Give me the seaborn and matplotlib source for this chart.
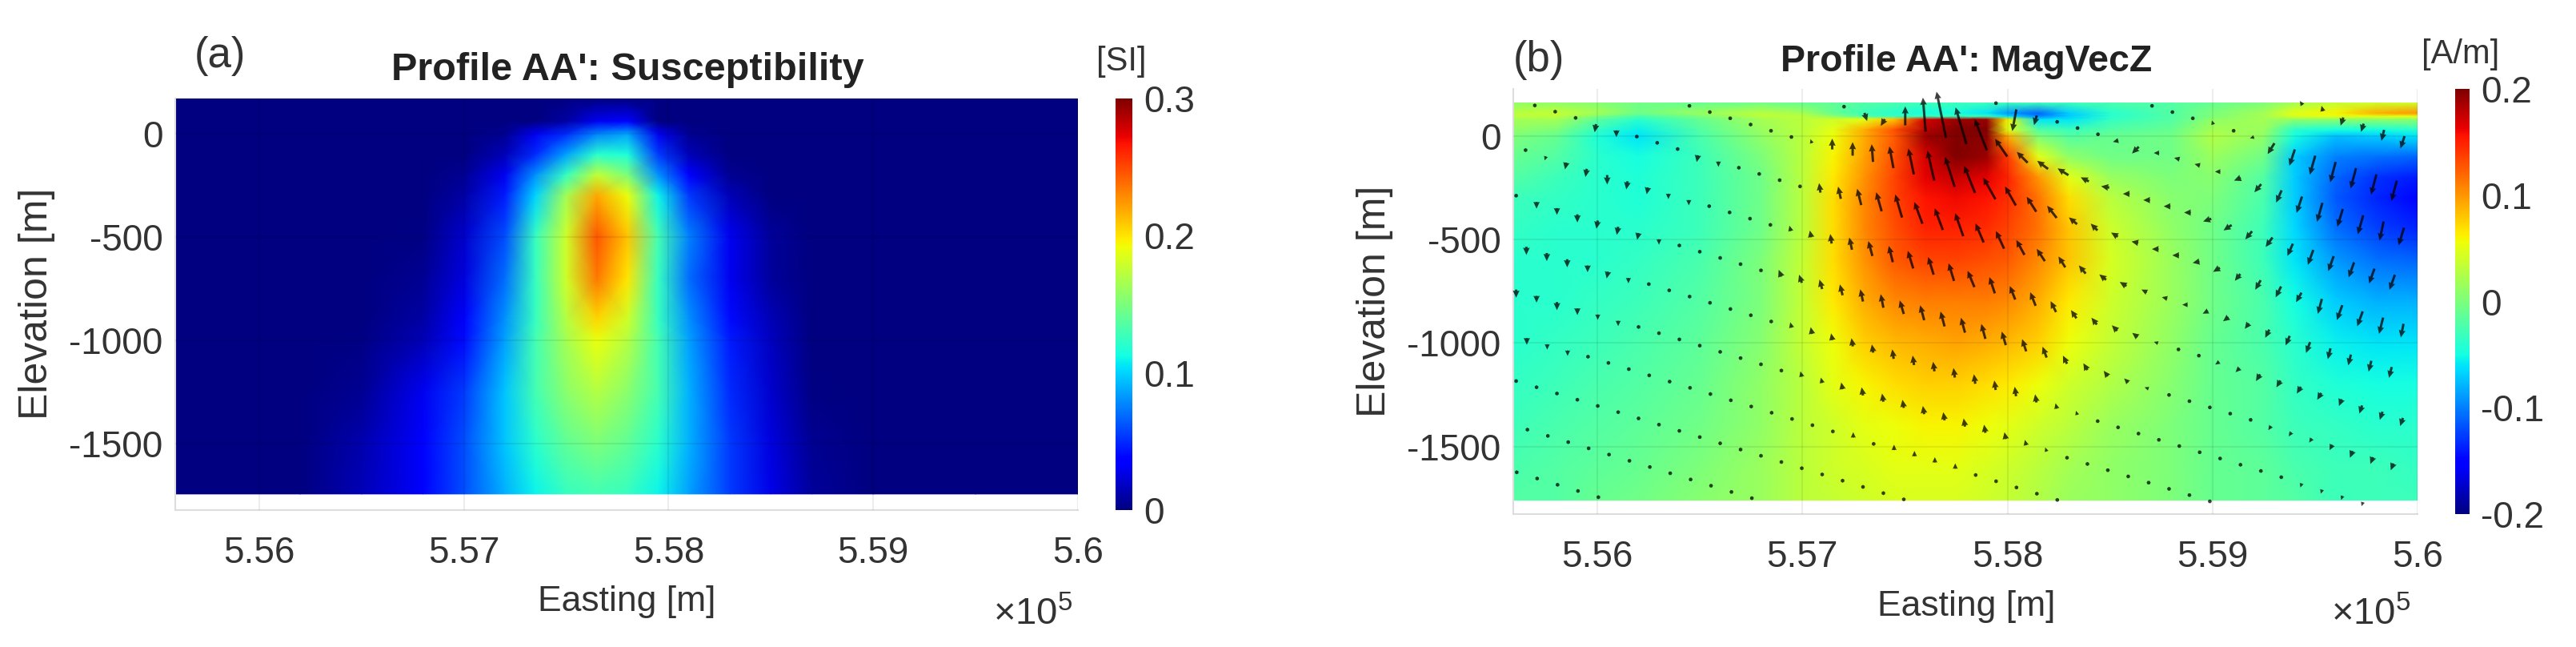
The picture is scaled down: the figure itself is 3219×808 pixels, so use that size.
#%% Loading libraries
import numpy as np
import seaborn as sns
import matplotlib.pyplot as plt

#%% Data
# (a) susceptibility [SI]
east_a = [555590, 556200, 556500, 556800, 557000, 557200, 557350, 557500, 557650,
          557800, 557950, 558100, 558300, 558500, 558700, 559000, 559500, 560000]
elev_a = [170, 60, 0, -100, -200, -300, -500, -700, -900, -1000, -1250, -1500, -1744]
susc = [
    [0, 0, 0, 0, 0, 0, 0, 0, 0, 0, 0, 0, 0, 0, 0, 0, 0, 0],
    [0, 0, 0, 0, 0, 0, 0, .01, .03, .035, 0, 0, 0, 0, 0, 0, 0, 0],
    [0, 0, 0, 0, 0, .005, .03, .05, .075, .085, .03, .005, 0, 0, 0, 0, 0, 0],
    [0, 0, 0, 0, 0, .015, .05, .085, .12, .115, .055, .015, 0, 0, 0, 0, 0, 0],
    [0, 0, 0, 0, .005, .03, .08, .125, .175, .15, .08, .035, .005, 0, 0, 0, 0, 0],
    [0, 0, 0, 0, .01, .045, .10, .165, .22, .19, .11, .055, .015, 0, 0, 0, 0, 0],
    [0, 0, 0, .002, .02, .06, .125, .18, .245, .21, .13, .075, .03, .008, 0, 0, 0, 0],
    [0, 0, 0, .005, .025, .07, .125, .18, .235, .2, .125, .07, .03, .008, 0, 0, 0, 0],
    [0, 0, 0, .01, .035, .08, .125, .17, .205, .18, .125, .08, .04, .015, 0, 0, 0, 0],
    [0, 0, .002, .015, .04, .085, .13, .165, .19, .17, .13, .085, .045, .017, 0, 0, 0, 0],
    [0, 0, .005, .03, .055, .095, .13, .155, .17, .155, .13, .09, .05, .02, .002, 0, 0, 0],
    [0, 0, .012, .035, .06, .095, .12, .14, .15, .14, .12, .09, .055, .025, .005, 0, 0, 0],
    [0, 0, .015, .035, .06, .09, .11, .125, .13, .125, .11, .085, .055, .028, .008, 0, 0, 0],
]

# (b) MagVecZ [A/m]
east_b = [555590, 555800, 556000, 556200, 556500, 556800, 557000, 557150, 557300, 557450, 557600, 557750,
          557900, 558000, 558150, 558300, 558500, 558800, 559000, 559250, 559400, 559600, 559800, 560000]
elev_b = [160, 110, 95, 80, 30, 0, -100, -200, -300, -450, -600, -800, -1000, -1200, -1400, -1600, -1760]
magz = [
    [.01, .01, .005, -.005, -.01, -.005, -.01, -.015, -.02, -.025, -.03, -.03, -.03, -.03, -.03, -.03, -.025, -.02, -.01, .0, .02, .035, .04, .04],
    [.03, .035, .02, -.005, .015, .03, .02, -.01, -.03, -.04, -.05, -.05, -.06, -.09, -.11, -.07, -.04, -.02, .0, .02, .05, .06, .09, .1],
    [.03, .03, .0, -.025, .0, .03, .03, .01, -.02, -.03, -.03, -.03, -.03, -.06, -.1, -.07, -.04, -.02, .0, .02, .045, .05, .05, .05],
    [.02, .02, -.015, -.04, -.01, .02, .03, .04, .05, .08, .17, .19, .19, .06, -.06, -.06, -.035, -.02, .01, .02, .01, .01, .01, .01],
    [.01, .0, -.035, -.055, -.02, .015, .03, .05, .09, .13, .18, .2, .2, .05, -.02, -.03, -.02, -.01, .02, .015, -.04, -.05, -.05, -.04],
    [.0, -.01, -.045, -.06, -.025, .01, .03, .055, .09, .125, .19, .2, .195, .09, .0, -.02, -.01, -.005, .025, .01, -.05, -.075, -.07, -.06],
    [-.01, -.02, -.04, -.05, -.03, .0, .03, .06, .095, .13, .17, .2, .19, .14, .05, .01, -.005, -.005, .015, -.005, -.07, -.1, -.105, -.11],
    [-.02, -.03, -.04, -.045, -.03, -.005, .03, .065, .1, .135, .165, .175, .165, .15, .1, .05, .015, .0, .005, -.02, -.07, -.11, -.13, -.14],
    [-.03, -.035, -.04, -.045, -.03, -.005, .03, .07, .105, .135, .155, .16, .155, .145, .115, .07, .03, .005, .0, -.025, -.07, -.115, -.135, -.15],
    [-.035, -.04, -.04, -.04, -.03, -.005, .03, .07, .105, .13, .15, .15, .145, .135, .115, .08, .04, .01, -.005, -.03, -.065, -.105, -.125, -.135],
    [-.04, -.04, -.04, -.035, -.025, .0, .035, .07, .10, .125, .135, .135, .13, .125, .105, .08, .045, .015, -.005, -.03, -.06, -.09, -.105, -.11],
    [-.04, -.04, -.035, -.03, -.02, .0, .035, .065, .09, .105, .11, .11, .11, .105, .09, .065, .04, .015, -.005, -.025, -.05, -.07, -.08, -.08],
    [-.04, -.035, -.03, -.025, -.015, .005, .035, .055, .075, .085, .09, .095, .09, .085, .075, .055, .035, .01, -.01, -.025, -.04, -.055, -.06, -.06],
    [-.035, -.03, -.025, -.02, -.01, .01, .03, .05, .06, .07, .075, .075, .07, .065, .055, .04, .025, .005, -.01, -.02, -.035, -.045, -.05, -.05],
    [-.03, -.025, -.02, -.015, -.005, .01, .03, .04, .05, .055, .06, .06, .055, .05, .04, .03, .015, .0, -.01, -.02, -.03, -.035, -.04, -.04],
    [-.025, -.02, -.015, -.01, .0, .015, .03, .04, .045, .05, .05, .05, .045, .04, .03, .02, .01, .0, -.01, -.015, -.025, -.03, -.03, -.035],
    [-.02, -.02, -.01, -.005, .005, .015, .03, .035, .04, .045, .045, .045, .04, .035, .025, .015, .01, .0, -.01, -.015, -.02, -.03, -.03, -.03],
]

# Arrow rows: each row of the sampling lattice, first arrow easting and elevation
row_east = [559439, 558705, 557944, 557203, 556449, 555695, 555650, 555604, 555654, 555604, 555656, 555604, 555659, 555607]
row_elev = [150, 146, 159, 142, 146, 148, -68, -288, -535, -742, -976, -1184, -1419, -1625]
lattice_east_step = 99.5
lattice_elev_step = -30.1

# Vector components per row, A/m x 100
arrow_x = [
    [-2, -1, -2, -2, -2, -3],
    [0, -1, 0, -1, -1, -3, -5, -4, -4, -4, -4, -4, -4],
    [0, -3, -2, -1, -2, -3, -4, -5, -4, -4, -4, -4, -5, -5, -4, -4, -4, -4, -4, -3, -4],
    [0, 2, -3, 0, -2, -7, -8, -9, -9, -8, -8, -8, -6, -6, -5, -5, -5, -5, -6, -6, -5, -5, -4, -4, -4, -4, -4, -4],
    [0, 0, -1, 0, 0, 0, -1, 0, 0, -1, -3, -4, -5, -7, -8, -9, -8, -7, -7, -6, -5, -5, -5, -5, -5, -5, -5, -4, -4, -4, -4, -3, -4, -4, -3, -2],
    [0, 0, 0, -1, 0, 0, 0, 0, -1, 0, 0, 0, 0, -1, -1, -2, -3, -4, -5, -6, -6, -6, -6, -6, -6, -6, -5, -5, -5, -5, -4, -4, -4, -4, -4, -3, -3, -3, -3, -2, -2, -2, -2],
    [0, -1, -1, -1, 0, -1, -1, 0, 0, 0, 0, 0, 0, -1, -1, -1, -2, -3, -3, -4, -4, -4, -5, -4, -4, -4, -4, -4, -4, -4, -4, -3, -2, -2, -3, -3, -3, -3, -3, -3, -2, -2, -2, -2],
    [0, 0, 0, 0, -1, -1, -1, 0, 0, 0, 0, 0, 0, -2, -2, -2, -2, -2, -2, -3, -3, -3, -3, -3, -3, -3, -3, -3, -3, -3, -3, -3, -2, -1, -1, 0, -1, -2, -2, -2, -2, -2, -2, -2],
    [0, 0, 0, 0, -1, 0, 0, 0, 0, 0, 0, 0, 0, -1, -1, -1, -1, -1, -1, -1, -1, -1, -1, -1, -1, -1, -1, -1, -1, -1, -1, 0, 0, 0, 0, 0, -1, -1, -1, -1, -1, -1],
    [0, 0, 0, 0, 0, 0, 0, 0, 0, 0, 0, 0, 0, 0, -1, -1, -1, -1, -1, -1, -1, -1, -1, -1, -1, -1, -1, 0, 0, 0, -1, 0, 0, 0, 0],
    [0, 0, 0, 0, 0, 0, 0, 0, 0, 0, 0, 0, 0, 0, 0, 0, 0, 0, 0, 0, 0, 0, 0, 0, 0, 0, 0],
    [0, 0, 0, 0, 0, 0, 0, 0, 0, 0, 0, 0, 0, 0, 0, 0, 0, 0, 0, 0],
    [0, 0, 0, 0, 0, 0, 0, 0, 0, 0, 0, 0],
    [0, 0, 0, 0, 0],
]
arrow_z = [
    [3, 4, -6, -6, -8, -9],
    [0, 1, 0, 3, 2, -1, -8, -12, -14, -15, -15, -15, -15],
    [1, -16, -7, 0, 0, 0, -1, -5, 0, 1, 1, 0, -2, -6, -9, -12, -14, -13, -14, -14, -13],
    [0, -6, -5, 14, 25, 34, 27, 23, 13, 8, 6, 5, 3, 1, 0, 0, 0, 0, -2, -4, -6, -7, -9, -11, -11, -11, -11, -11],
    [0, 0, -2, -1, 0, 0, 3, 8, 10, 13, 16, 19, 22, 22, 20, 16, 14, 11, 9, 5, 5, 3, 1, 0, 0, -1, -3, -5, -7, -8, -7, -11, -11, -11, -12, -10],
    [-1, -1, -3, -6, -5, -2, -1, -2, -5, -4, -2, -1, -1, 2, 7, 9, 12, 14, 17, 16, 16, 17, 14, 13, 11, 9, 8, 6, 4, 3, 2, 1, 0, -2, -3, -4, -6, -7, -8, -8, -8, -8, -8],
    [-1, -3, -5, -6, -7, -6, -5, -4, -4, -2, -1, -1, -1, 4, 5, 7, 9, 11, 12, 13, 13, 13, 12, 12, 10, 10, 8, 6, 5, 4, 3, 1, 0, 0, -2, -3, -5, -5, -5, -5, -5, -6, -6, -6],
    [-3, -5, -5, -6, -6, -6, -5, -4, -2, -1, -1, -1, 1, 5, 6, 7, 8, 9, 10, 10, 11, 11, 11, 11, 10, 9, 8, 6, 5, 4, 3, 1, 0, 0, 0, -1, -2, -3, -3, -3, -4, -5, -5, -5],
    [-6, -6, -6, -5, -5, -4, -3, -2, -1, -1, 0, 1, 2, 4, 5, 5, 6, 6, 7, 7, 7, 7, 7, 7, 7, 6, 4, 3, 2, 2, 1, 0, 0, 0, 0, -1, -1, -2, -3, -3, -3, -3],
    [-6, -5, -6, -5, -4, -4, -3, -2, -1, -1, -1, 0, 1, 2, 4, 4, 5, 6, 6, 6, 6, 6, 6, 6, 5, 4, 3, 2, 1, 0, 2, 0, 0, 0, 0],
    [-5, -4, -4, -2, -2, -1, -1, 0, 0, -1, -1, 2, 1, 3, 3, 3, 4, 3, 4, 4, 4, 4, 3, 3, 3, 2, 2],
    [-3, -2, -2, -1, -1, -1, 0, 0, 0, 0, 0, 1, 1, 1, 2, 2, 2, 2, 2, 2],
    [-2, -1, -1, -1, -1, 0, 0, 0, 0, 0, 0, 1],
    [-2, -2, -1, -1, -1],
]

east_ticks = [556000, 557000, 558000, 559000, 560000]
east_labels = ["5.56", "5.57", "5.58", "5.59", "5.6"]
elev_ticks = [0, -500, -1000, -1500]
elev_labels = ["0", "-500", "-1000", "-1500"]
cbar_ticks_a = [0, 0.1, 0.2, 0.3]
cbar_labels_a = ["0", "0.1", "0.2", "0.3"]
cbar_ticks_b = [-0.2, -0.1, 0, 0.1, 0.2]
cbar_labels_b = ["-0.2", "-0.1", "0", "0.1", "0.2"]

#%% Theming
sns.set_style("white")
plt.rcParams['font.family'] = ['Liberation Sans', 'DejaVu Sans']
plt.rcParams['mathtext.fontset'] = 'custom'
plt.rcParams['mathtext.rm'] = 'Liberation Sans'
plt.rcParams['mathtext.default'] = 'regular'
jet = plt.get_cmap("jet")  # seaborn refuses to hand out jet itself

FIG_W, FIG_H = 3219, 808
TXT = "#333333"
fig = plt.figure(figsize=(FIG_W / 100, FIG_H / 100), dpi=100, facecolor="white")


def box(left, top, right, bottom):
    return [left / FIG_W, 1 - bottom / FIG_H, (right - left) / FIG_W, (bottom - top) / FIG_H]


def label(x, y, s, size, **kw):
    kw.setdefault("color", TXT)
    fig.text(x / FIG_W, 1 - y / FIG_H, s, fontsize=size, ha=kw.pop("ha", "center"), va="center", **kw)


def panel(ax_box, cbar_box, east, elev, field, vmin, vmax, ylims, ticks, tick_labels):
    ax = fig.add_axes(box(*ax_box))
    mesh = ax.pcolormesh(east, elev, np.array(field), cmap=jet, vmin=vmin, vmax=vmax,
                         shading="gouraud", zorder=1)
    ax.set_xlim(555590, 560000)
    ax.set_ylim(*ylims)
    ax.set_xticks(east_ticks, east_labels)
    ax.set_yticks(elev_ticks, elev_labels)
    ax.tick_params(axis="x", direction="in", length=10, width=1.5, color="#999999",
                   labelsize=33, labelcolor=TXT, pad=23)
    ax.tick_params(axis="y", direction="in", length=0, labelsize=33, labelcolor=TXT, pad=11)
    ax.grid(True, color="black", alpha=0.07, lw=1.5)
    ax.set_axisbelow(False)
    for side in ["top", "right"]:
        ax.spines[side].set_visible(False)
    for side in ["left", "bottom"]:
        ax.spines[side].set_color("#dddddd")
        ax.spines[side].set_linewidth(1.5)

    cax = fig.add_axes(box(*cbar_box))
    cb = fig.colorbar(mesh, cax=cax)
    cb.outline.set_visible(False)
    cb.set_ticks(ticks, labels=tick_labels)
    cax.tick_params(length=0, labelsize=33, labelcolor=TXT, pad=10)
    return ax


#%% (a) Susceptibility
panel((219, 123, 1347, 637), (1394, 123, 1415, 637), east_a, elev_a, susc, 0, 0.3,
      (-1822, 170), cbar_ticks_a, cbar_labels_a)
label(275, 70, "(a)", 38)
label(784, 88, "Profile AA': Susceptibility", 35, fontweight="bold", color="#222222")
label(1401, 77, "[SI]", 30)
label(46, 379, "Elevation [m]", 36, rotation=90)
label(783, 752, "Easting [m]", 32)
label(1291, 768, "×10$^{5}$", 34)

#%% (b) MagVecZ with the magnetisation vectors on top
ax_b = panel((1891, 111, 3021, 642), (3068, 111, 3086, 642), east_b, elev_b, magz, -0.2, 0.2,
             (-1827, 228), cbar_ticks_b, cbar_labels_b)
for e0, z0, ux, uz in zip(row_east, row_elev, arrow_x, arrow_z):
    idx = np.arange(len(ux))
    ax_b.quiver(e0 + idx * lattice_east_step, z0 + idx * lattice_elev_step, ux, uz,
                angles="uv", scale_units="dots", scale=0.59, units="dots", width=3.0,
                headwidth=2.8, headlength=3.0, headaxislength=2.8, minlength=1.7,
                color="black", alpha=0.75, zorder=3, clip_on=False)
label(1923, 75, "(b)", 38)
label(2457, 77, "Profile AA': MagVecZ", 33.5, fontweight="bold", color="#222222")
label(3075, 68, "[A/m]", 30)
label(1718, 376, "Elevation [m]", 36, rotation=90)
label(2457, 757, "Easting [m]", 32)
label(2963, 768, "×10$^{5}$", 34)

plt.savefig("out.png", dpi=100, facecolor="white")
